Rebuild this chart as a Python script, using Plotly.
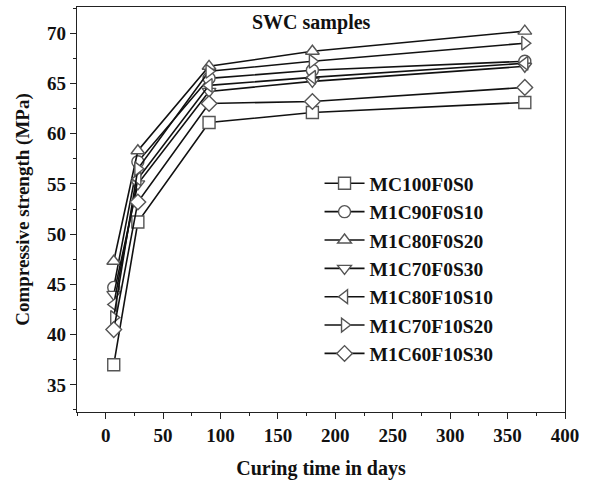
import plotly.graph_objects as go

days = [7, 28, 90, 180, 365]
names = ["MC100F0S0", "M1C90F0S10", "M1C80F0S20", "M1C70F0S30",
         "M1C80F10S10", "M1C70F10S20", "M1C60F10S30"]
mc100f0s0 = [37.0, 51.2, 61.1, 62.1, 63.1]
m1c90f0s10 = [44.7, 57.2, 65.5, 66.3, 67.2]
m1c80f0s20 = [47.3, 58.3, 66.7, 68.2, 70.2]
m1c70f0s30 = [44.0, 55.0, 64.2, 65.2, 66.7]
m1c80f10s10 = [43.0, 55.5, 64.8, 65.6, 67.0]
m1c70f10s20 = [41.7, 56.5, 66.2, 67.2, 69.0]
m1c60f10s30 = [40.5, 53.2, 63.0, 63.2, 64.6]
series = [mc100f0s0, m1c90f0s10, m1c80f0s20, m1c70f0s30,
          m1c80f10s10, m1c70f10s20, m1c60f10s30]
symbols = ["square", "circle", "triangle-up", "triangle-down",
           "triangle-left", "triangle-right", "diamond"]
x_ticks = [0, 50, 100, 150, 200, 250, 300, 350, 400]
y_ticks = [35, 40, 45, 50, 55, 60, 65, 70]

FONT = "Liberation Serif"
fig = go.Figure()
for i, (n, s, sym) in enumerate(zip(names, series, symbols)):
    fig.add_trace(go.Scatter(
        x=days, y=s, name="<b>" + n + "</b>", mode="lines+markers",
        legendgroup=n,
        line=dict(color="#111111", width=1.6),
        marker=dict(symbol=sym, size=12, color="white",
                    line=dict(color="#555555", width=1.4)),
    ))

fig.update_layout(
    width=589, height=484,
    margin=dict(l=77, r=24, t=7, b=72),
    paper_bgcolor="white", plot_bgcolor="white",
    font=dict(family=FONT, size=16, color="#111111"),
    showlegend=True,
    legend=dict(x=0.497, y=0.612, xanchor="left", yanchor="top",
                bgcolor="rgba(0,0,0,0)", tracegroupgap=0,
                font=dict(family=FONT, size=19.5, color="#111111"),
                itemwidth=40),
    annotations=[dict(text="<b>SWC samples</b>", x=0.48, y=0.996, xref="paper", yref="paper",
                      xanchor="center", yanchor="top", showarrow=False,
                      font=dict(family=FONT, size=20, color="#111111"))],
)
fig.update_xaxes(
    range=[-25, 400], tickvals=x_ticks, ticktext=["<b>%d</b>" % v for v in x_ticks],
    ticks="outside", ticklen=6, tickwidth=1.2, tickcolor="#222",
    minor=dict(dtick=25, tick0=0, ticks="outside", ticklen=3, tickcolor="#222"),
    showline=True, linecolor="#222", linewidth=1.2, mirror=True,
    showgrid=False, zeroline=False,
    tickfont=dict(family=FONT, size=19),
    title=dict(text="<b>Curing time in days</b>", font=dict(family=FONT, size=20), standoff=16),
)
fig.update_yaxes(
    range=[32.3, 72.6], tickvals=y_ticks, ticktext=["<b>%d</b>" % v for v in y_ticks],
    ticks="outside", ticklen=6, tickwidth=1.2, tickcolor="#222",
    minor=dict(dtick=2.5, tick0=0, ticks="outside", ticklen=3, tickcolor="#222"),
    showline=True, linecolor="#222", linewidth=1.2, mirror=True,
    showgrid=False, zeroline=False,
    tickfont=dict(family=FONT, size=19),
    title=dict(text="<b>Compressive strength (MPa)</b>", font=dict(family=FONT, size=19), standoff=12),
)
fig.write_html("out.html")
